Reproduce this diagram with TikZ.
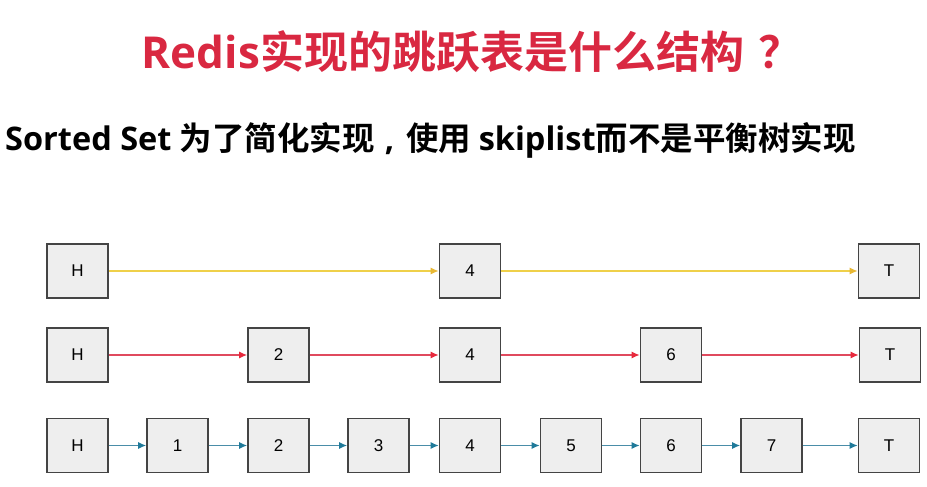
\documentclass[tikz,border=0pt]{standalone}
\usepackage{fontspec}
\usetikzlibrary{arrows.meta}
\newfontfamily\cjkb{Noto Sans CJK SC Bold}
\newfontfamily\latb{Open Sans Bold}
\newfontfamily\boxf{Liberation Sans}
\definecolor{titlered}{HTML}{D92841}
\definecolor{boxfill}{HTML}{EEEEEE}
\definecolor{boxline}{HTML}{444444}
\definecolor{lyellow}{HTML}{EFD04A}
\definecolor{ayellow}{HTML}{E8B834}
\definecolor{lred}{HTML}{E04A5E}
\definecolor{ared}{HTML}{E8283C}
\definecolor{lblue}{HTML}{4A8DA8}
\definecolor{ablue}{HTML}{1F7A9A}
\tikzset{
  cell/.style={draw=boxline, line width=1.6pt, fill=boxfill, minimum width=61pt, minimum height=54pt, inner sep=0pt, font=\boxf\fontsize{17}{17}\selectfont},
  ylink/.style={draw=lyellow, line width=1.3pt, -{Latex[length=8pt,width=7pt,color=ayellow]}},
  rlink/.style={draw=lred, line width=1.3pt, -{Latex[length=8pt,width=7pt,color=ared]}},
  blink/.style={draw=lblue, line width=1.3pt, -{Latex[length=8pt,width=7pt,color=ablue]}}
}
\begin{document}
\begin{tikzpicture}[x=1pt,y=-1pt]
\useasboundingbox (0,0) rectangle (927,487);
\fill[white] (0,0) rectangle (927,487);
\node[text=titlered, inner sep=0pt] (title) at (472,52) {\fontsize{44}{44}\selectfont{\latb Redis}{\cjkb 实现的跳跃表是什么结构\hspace{14pt}？}};
\node[anchor=west, inner sep=0pt] (sub) at (5,140) {\fontsize{32.5}{32.5}\selectfont{\latb Sorted Set }{\cjkb 为了简化实现}\hspace{10pt}{\latb ,}\hspace{12pt}{\cjkb 使用 }{\latb skiplist}{\cjkb 而不是平衡树实现}};
% row 1
\node[cell] (h1) at (77.5,271) {H};
\node[cell] (a4) at (470,271) {4};
\node[cell] (t1) at (889,271) {T};
% row 2
\node[cell] (h2) at (77.5,355) {H};
\node[cell] (b2) at (278.5,355) {2};
\node[cell] (b4) at (470,355) {4};
\node[cell] (b6) at (671,355) {6};
\node[cell] (t2) at (890,355) {T};
% row 3
\node[cell] (h3) at (77.5,445.5) {H};
\node[cell] (c1) at (177.5,445.5) {1};
\node[cell] (c2) at (278.5,445.5) {2};
\node[cell] (c3) at (378.5,445.5) {3};
\node[cell] (c4) at (470,445.5) {4};
\node[cell] (c5) at (571,445.5) {5};
\node[cell] (c6) at (671,445.5) {6};
\node[cell] (c7) at (771.5,445.5) {7};
\node[cell] (t3) at (889,445.5) {T};
% links
\draw[ylink] (h1) -- (a4);
\draw[ylink] (a4) -- (t1);
\draw[rlink] (h2) -- (b2);
\draw[rlink] (b2) -- (b4);
\draw[rlink] (b4) -- (b6);
\draw[rlink] (b6) -- (t2);
\draw[blink] (h3) -- (c1);
\draw[blink] (c1) -- (c2);
\draw[blink] (c2) -- (c3);
\draw[blink] (c3) -- (c4);
\draw[blink] (c4) -- (c5);
\draw[blink] (c5) -- (c6);
\draw[blink] (c6) -- (c7);
\draw[blink] (c7) -- (t3);
\end{tikzpicture}
\end{document}
